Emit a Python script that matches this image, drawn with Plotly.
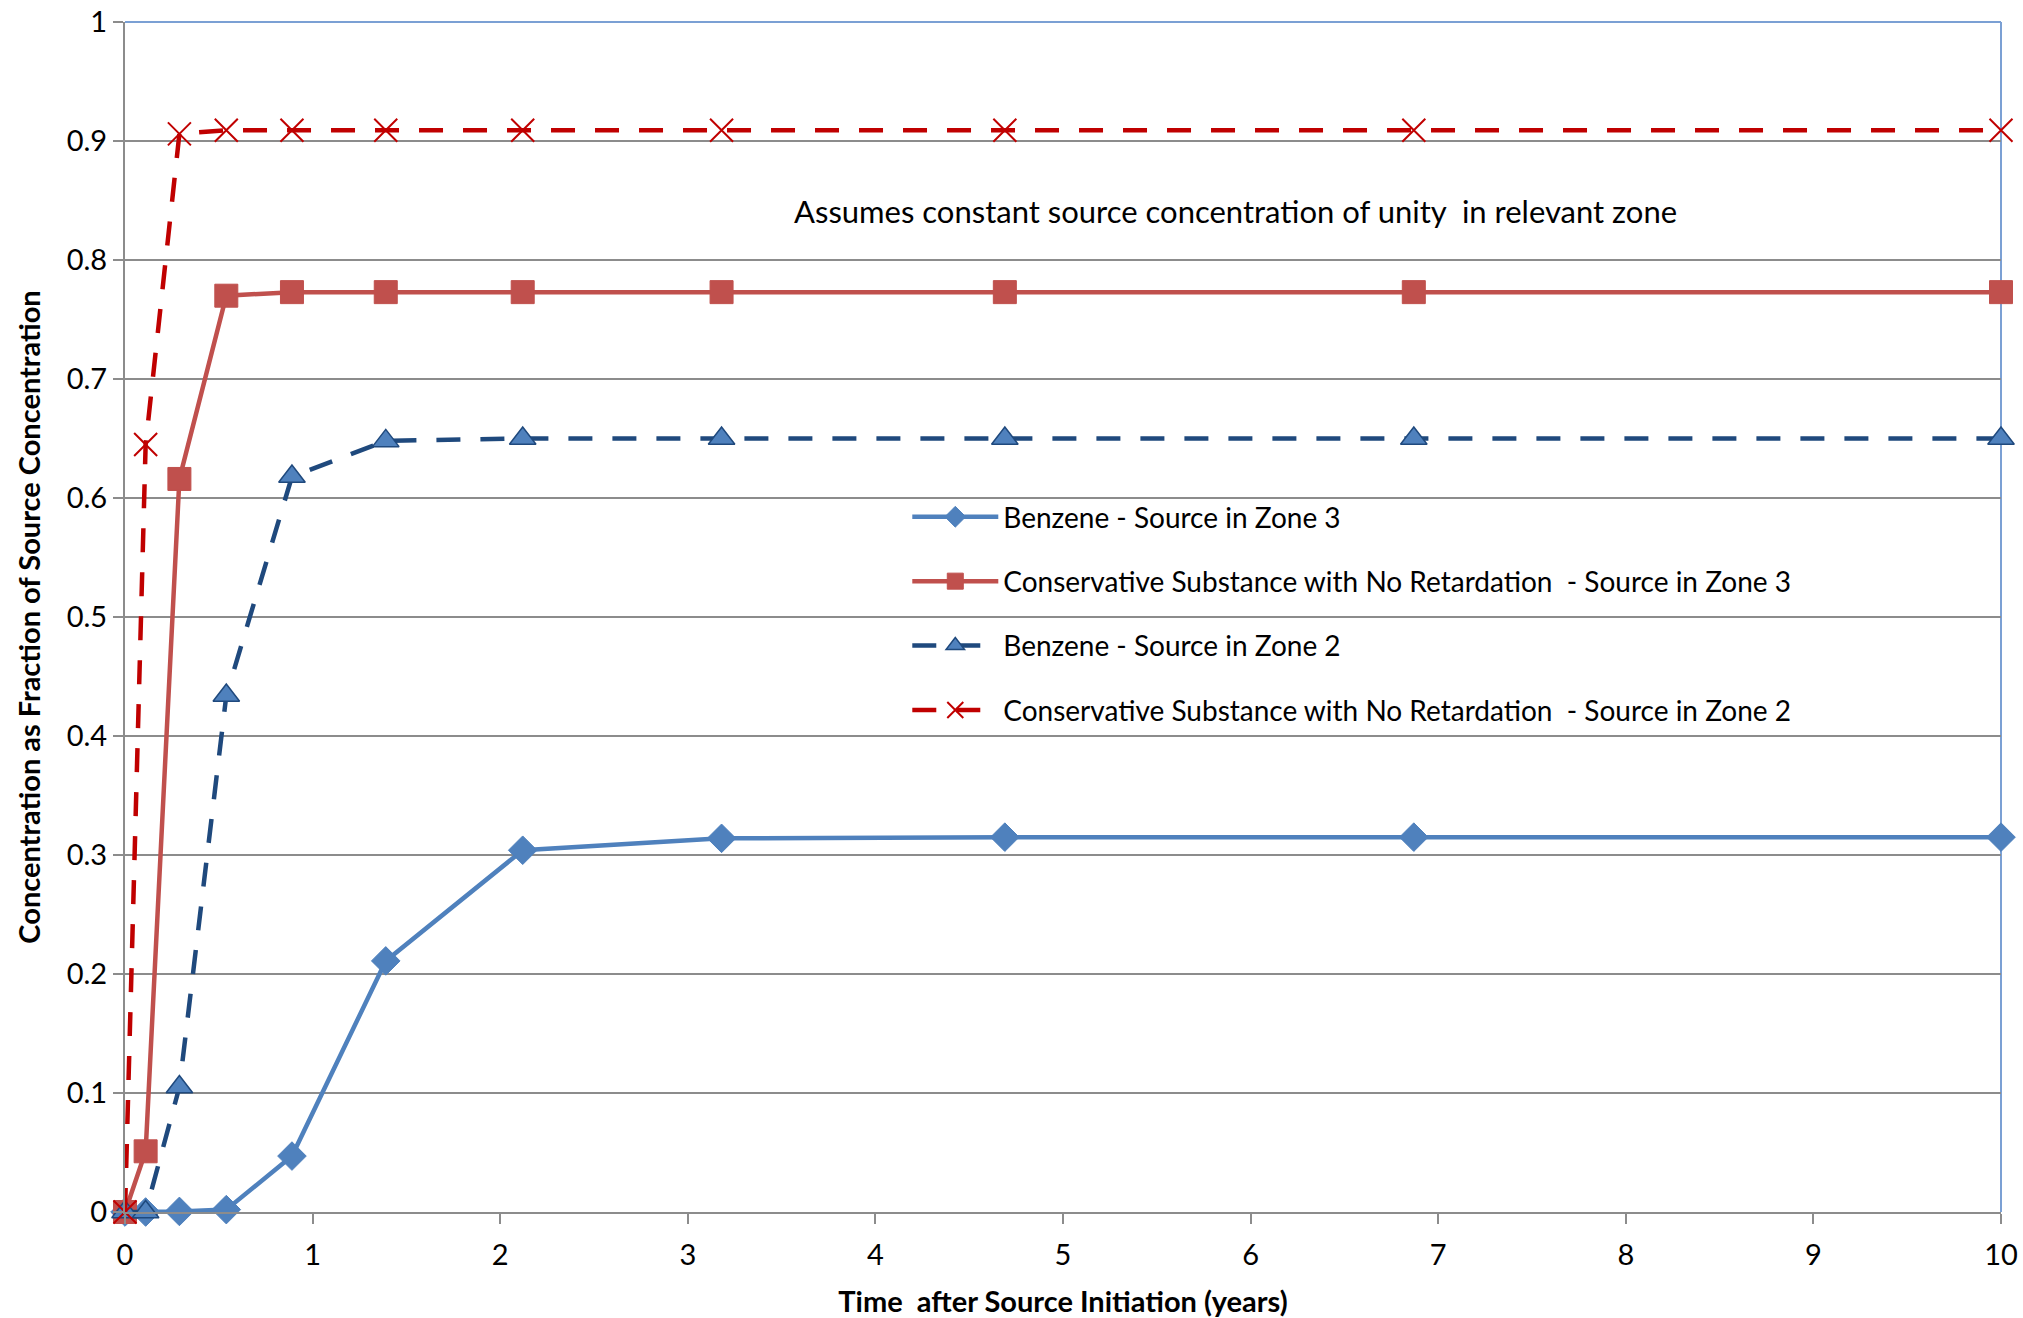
import plotly.graph_objects as go

# Time points (years)
time_years = [0, 0.11, 0.29, 0.54, 0.89, 1.39, 2.12, 3.18, 4.69, 6.87, 10]

benzene_zone3 = [0, 0, 0.0005, 0.002, 0.047, 0.211, 0.304, 0.314, 0.315, 0.315, 0.315]
conservative_zone3 = [0, 0.051, 0.616, 0.770, 0.773, 0.773, 0.773, 0.773, 0.773, 0.773, 0.773]
benzene_zone2 = [0, 0, 0.105, 0.434, 0.618, 0.648, 0.650, 0.650, 0.650, 0.650, 0.650]
conservative_zone2 = [0, 0.645, 0.906, 0.909, 0.909, 0.909, 0.909, 0.909, 0.909, 0.909, 0.909]

series_names = [
    "Benzene - Source in Zone 3",
    "Conservative Substance with No Retardation  - Source in Zone 3",
    "Benzene - Source in Zone 2",
    "Conservative Substance with No Retardation  - Source in Zone 2",
]

y_tick_vals = [0, 0.1, 0.2, 0.3, 0.4, 0.5, 0.6, 0.7, 0.8, 0.9, 1]
y_tick_text = ["0", "0.1", "0.2", "0.3", "0.4", "0.5", "0.6", "0.7", "0.8", "0.9", "1"]
x_tick_vals = [0, 1, 2, 3, 4, 5, 6, 7, 8, 9, 10]

FONT = "Lato"
DASH = "24px,20px"

fig = go.Figure()

fig.add_trace(go.Scatter(
    x=time_years, y=benzene_zone3, name=series_names[0], mode="lines+markers",
    line=dict(color="#4f81bd", width=4.5),
    marker=dict(symbol="diamond", size=22, color="#4f81bd", line=dict(color="#4f81bd", width=1)),
    cliponaxis=False, legendgroup="a",
))
fig.add_trace(go.Scatter(
    x=time_years, y=conservative_zone3, name=series_names[1], mode="lines+markers",
    line=dict(color="#c0504d", width=4.5),
    marker=dict(symbol="square", size=23, color="#c0504d", line=dict(color="#c0504d", width=1)),
    cliponaxis=False, legendgroup="b",
))
fig.add_trace(go.Scatter(
    x=time_years, y=benzene_zone2, name=series_names[2], mode="lines+markers",
    line=dict(color="#1f497d", width=4.5, dash=DASH),
    marker=dict(symbol="triangle-up", size=23, color="#4f81bd", line=dict(color="#1f497d", width=1.5)),
    cliponaxis=False, legendgroup="c",
))
fig.add_trace(go.Scatter(
    x=time_years, y=conservative_zone2, name=series_names[3], mode="lines+markers",
    line=dict(color="#c00000", width=4.5, dash=DASH),
    marker=dict(symbol="x-thin", size=23, color="#c00000", line=dict(color="#c00000", width=2)),
    cliponaxis=False, legendgroup="d",
))

# top and right border (blue)
fig.add_shape(type="line", xref="paper", yref="paper", x0=0, x1=1, y0=1, y1=1,
              line=dict(color="#7ba0d4", width=2), layer="below")
fig.add_shape(type="line", xref="paper", yref="paper", x0=1, x1=1, y0=0, y1=1,
              line=dict(color="#7ba0d4", width=2), layer="below")

fig.add_annotation(
    x=0.592, y=0.8415, xref="paper", yref="paper",
    text="Assumes constant source concentration of unity  in relevant zone",
    showarrow=False, xanchor="center", yanchor="middle",
    font=dict(family=FONT, size=31, color="#000000"),
)

fig.update_layout(
    width=2023, height=1318,
    margin=dict(l=125, r=22, t=22, b=106),
    paper_bgcolor="white", plot_bgcolor="white",
    font=dict(family=FONT, size=29, color="#000000"),
    showlegend=True,
    legend=dict(
        x=0.417, y=0.605, xanchor="left", yanchor="top",
        bgcolor="rgba(255,255,255,0)",
        font=dict(family=FONT, size=28, color="#000000"),
        tracegroupgap=25,
        itemwidth=86,
    ),
    xaxis=dict(
        range=[0, 10], tickvals=x_tick_vals, showgrid=False,
        showline=True, linecolor="#8c8c8c", linewidth=2,
        ticks="outside", ticklen=10, tickcolor="#8c8c8c", tickwidth=2,
        zeroline=False, automargin=False, ticklabelstandoff=6,
        tickfont=dict(family=FONT, size=29),
        title=dict(text="<b>Time  after Source Initiation (years)</b>",
                   font=dict(family=FONT, size=29), standoff=22),
    ),
    yaxis=dict(
        range=[0, 1], tickvals=y_tick_vals, ticktext=y_tick_text,
        showgrid=True, gridcolor="#8c8c8c", gridwidth=2,
        showline=True, linecolor="#8c8c8c", linewidth=2,
        ticks="outside", ticklen=10, tickcolor="#8c8c8c", tickwidth=2,
        zeroline=False, automargin=False,
        tickfont=dict(family=FONT, size=29),
        title=dict(text="<b>Concentration as Fraction of Source Concentration</b>",
                   font=dict(family=FONT, size=29), standoff=18),
    ),
)

fig.write_html("out.html")
